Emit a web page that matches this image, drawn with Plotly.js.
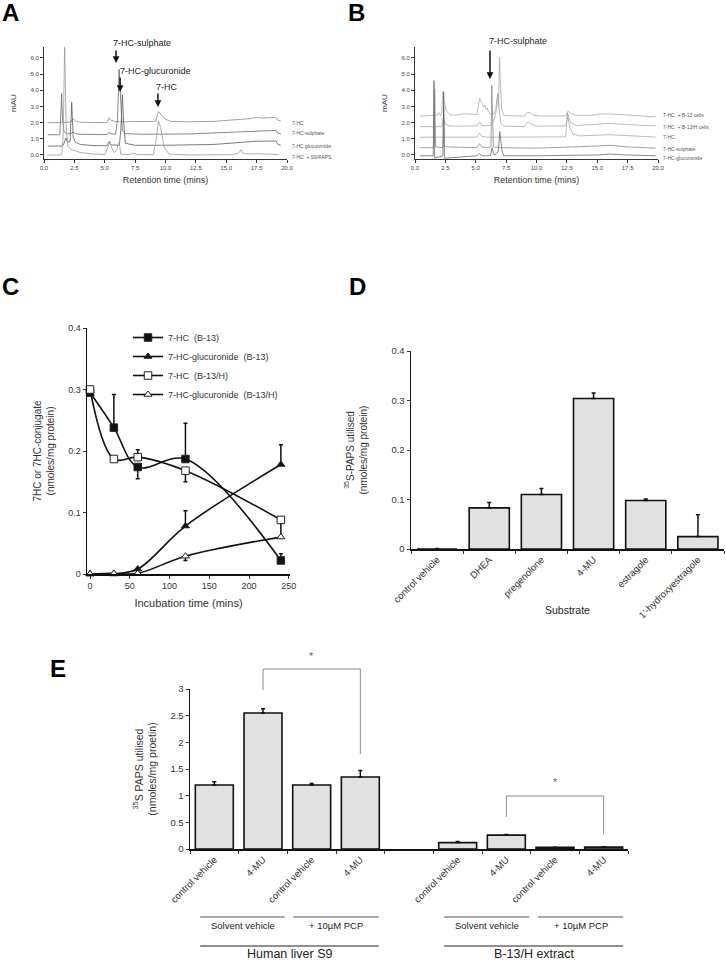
<!DOCTYPE html>
<html><head><meta charset="utf-8">
<script src="https://cdn.plot.ly/plotly-3.0.1.min.js"></script>
<style>html,body{margin:0;padding:0;background:#fff}#chart{width:726px;height:962px}</style>
</head><body><div id="chart"></div>
<script>
// ================= DATA =================
// Panel A: HPLC chromatograms (retention time, mins / absorbance, mAU, stacked)
const A_hc_t   = [0.3,1.4,1.5,1.6,2.2,2.4,2.6,3.0,5.2,5.35,5.5,5.8,6.2,9.2,9.35,9.45,9.6,9.9,10.4,12,14,15.5,17,17.5,18,19.1,19.25,19.5];
const A_hc_y   = [2.0,2.0,2.06,2.0,2.05,2.22,2.1,2.02,2.0,2.3,2.15,2.08,2.05,2.08,2.55,2.68,2.55,2.25,2.08,2.05,2.08,2.15,2.25,2.33,2.28,2.32,2.15,2.1];
const A_sulf_t = [0.3,1.3,1.38,1.45,1.52,1.65,1.9,2.2,2.4,2.6,3.0,5.2,5.35,5.5,5.9,6.05,6.18,6.3,6.45,6.7,8,12,15,17.5,19.1,19.25,19.5];
const A_sulf_y = [1.25,1.25,2.5,3.8,2.2,1.45,1.3,1.32,1.42,1.32,1.28,1.26,1.4,1.3,1.3,2.2,5.3,3.2,1.5,1.32,1.28,1.3,1.4,1.5,1.52,1.35,1.3];
const A_gluc_t = [0.3,1.4,1.6,1.8,1.95,2.15,2.28,2.4,2.6,3.0,4.0,5.2,5.35,5.55,6.2,6.33,6.45,6.55,6.7,7.5,10,14,17.5,19.1,19.25,19.5];
const A_gluc_y = [0.55,0.55,0.62,1.05,0.78,0.85,3.25,1.1,0.78,0.65,0.58,0.57,0.82,0.62,0.6,1.6,3.72,2.1,0.72,0.6,0.6,0.65,0.85,0.86,0.65,0.6];
const A_s9_t   = [0.3,1.45,1.58,1.7,1.82,1.95,2.2,2.6,3.0,4.0,5.0,5.25,5.4,5.6,5.8,6.0,6.1,6.2,6.32,7.0,7.4,7.7,9.0,9.25,9.42,9.6,9.9,10.3,12,15.5,16.0,16.2,16.4,17.0,17.5,19.1,19.3];
const A_s9_y   = [0,0,1.2,6.8,1.8,0.55,0.35,0.25,0.15,0.06,0.03,0.45,0.85,0.4,0.15,0.3,0.7,0.75,0.05,0.02,0.1,0.02,0.02,1.0,2.1,1.7,0.45,0.05,0.0,0.02,0.1,0.32,0.1,0.05,0.08,0.03,0.0];
const A_labels = ['7-HC','7-HC-sulphate','7-HC glucuronide','7-HC  + S9/PAPS'];

// Panel B: HPLC chromatograms
const B_b13_t  = [0.4,1.8,1.95,2.1,2.2,2.3,2.42,2.6,2.9,3.3,4.0,4.6,5.1,5.22,5.32,5.45,5.55,5.65,5.75,5.85,5.95,6.05,6.2,6.5,6.65,6.8,6.88,6.95,7.02,7.12,7.3,9.0,9.25,9.5,9.8,10.5,12.4,12.6,12.85,13.3,14.5,15.5,17,18.5,19.8];
const B_b13_y  = [2.4,2.45,2.62,2.42,2.6,3.95,3.2,2.7,2.5,2.45,2.55,2.5,2.5,3.1,3.5,3.3,3.2,2.95,3.1,2.8,2.9,2.65,2.55,2.55,2.85,3.8,3.0,6.05,5.0,2.9,2.45,2.4,2.65,2.6,2.45,2.4,2.42,2.72,2.55,2.45,2.45,2.55,2.5,2.42,2.35];
const B_b13h_t = [0.4,2.2,2.35,2.5,2.8,3.5,5.1,5.3,5.5,5.9,6.3,6.55,6.7,6.82,6.92,7.05,7.3,9.0,9.3,9.6,10.0,12.4,12.6,12.8,13.3,15,16,17.5,19.8];
const B_b13h_y = [1.75,1.75,2.3,1.9,1.8,1.78,1.8,2.05,1.85,1.8,1.85,2.3,2.8,3.8,2.9,2.0,1.78,1.75,2.05,1.9,1.78,1.8,2.5,2.0,1.82,1.9,1.95,1.88,1.8];
const B_hc_t   = [0.4,5.1,5.3,5.5,5.9,7.0,10,12.4,12.55,12.7,13.0,13.5,15,16,17.5,19.8];
const B_hc_y   = [1.1,1.1,1.35,1.15,1.1,1.1,1.1,1.12,2.6,1.8,1.3,1.18,1.22,1.25,1.2,1.1];
const B_sulf_t = [0.4,1.55,1.62,1.7,2.3,2.36,2.42,5.1,5.3,5.5,5.9,6.25,6.32,6.38,6.45,7,10,15,16,17.5,19.8];
const B_sulf_y = [0.45,0.45,4.1,0.5,0.45,3.0,0.5,0.45,0.7,0.5,0.45,0.5,4.3,1.0,0.5,0.45,0.42,0.55,0.6,0.5,0.42];
const B_gluc_t = [0.4,1.5,1.56,1.62,2.3,2.36,2.42,5.1,5.3,5.5,6.2,6.35,6.5,6.85,6.98,7.15,7.3,10,15,16,17.5,19.8];
const B_gluc_y = [-0.05,-0.05,4.6,-0.2,-0.05,3.9,-0.2,-0.05,0.1,-0.05,-0.05,0.45,0.0,0.2,1.45,0.3,-0.05,-0.05,0.0,0.05,0.0,-0.05];
const B_labels = ['7-HC  + B-13 cells','7-HC  + B-13/H cells','7-HC','7-HC-sulphate','7-HC-glucuronide'];

// Panel C: time course
const C_time = [0,30,60,120,240];
const C_names = ['7-HC\u00a0\u00a0(B-13)','7-HC-glucuronide\u00a0\u00a0(B-13)','7-HC\u00a0\u00a0(B-13/H)','7-HC-glucuronide\u00a0\u00a0(B-13/H)'];
const C_hc_b13      = [0.295,0.238,0.174,0.187,0.022];
const C_hc_b13_up   = [0,0.054,0,0.058,0.011];
const C_hc_b13_dn   = [0,0,0.019,0,0];
const C_gl_b13      = [0,0,0.008,0.078,0.178];
const C_gl_b13_up   = [0,0,0,0.025,0.032];
const C_gl_b13_dn   = [0,0,0,0,0];
const C_hc_b13h     = [0.3,0.187,0.19,0.168,0.088];
const C_hc_b13h_up  = [0,0,0.012,0,0];
const C_hc_b13h_dn  = [0,0,0,0.018,0.028];
const C_gl_b13h     = [0,0.001,0.001,0.029,0.06];
const C_gl_b13h_up  = [0,0,0,0,0];
const C_gl_b13h_dn  = [0,0,0,0.007,0];

// Panel D: substrates
const D_cats = ['control vehicle','DHEA','pregenolone','4-MU','estragole','1\u2019-hydroxyestragole'];
const D_vals = [0,0.083,0.11,0.304,0.098,0.025];
const D_err  = [0.001,0.011,0.012,0.011,0.003,0.044];

// Panel E: PCP inhibition
const E_ids    = ['s9_sv_cv','s9_sv_mu','s9_pcp_cv','s9_pcp_mu','gap','b13_sv_cv','b13_sv_mu','b13_pcp_cv','b13_pcp_mu'];
const E_labels = ['control vehicle','4-MU','control vehicle','4-MU','','control vehicle','4-MU','control vehicle','4-MU'];
const E_vals   = [1.2,2.55,1.2,1.35,null,0.12,0.26,0.03,0.035];
const E_err    = [0.06,0.08,0.03,0.12,null,0.02,0.01,0.005,0.005];
const E_sub    = ['Solvent vehicle','+ 10\u00b5M PCP','Solvent vehicle','+ 10\u00b5M PCP'];
const E_groups = ['Human liver S9','B-13/H extract'];

// ================= LAYOUT =================
const W = 726, H = 962;
const PX = v => v / W, PY = v => 1 - v / H;
const FONT = 'Liberation Sans, Arial, sans-serif';
const INK = '#111';

const traces = [];
function chrom(t, y, xa, ya, color, w) {
  traces.push({x: t, y: y, xaxis: xa, yaxis: ya, type: 'scatter', mode: 'lines',
    line: {color: color, width: w || 0.8}, showlegend: false, hoverinfo: 'skip'});
}
chrom(A_hc_t, A_hc_y, 'x', 'y', '#8a8a8a');
chrom(A_sulf_t, A_sulf_y, 'x', 'y', '#6a6a6a');
chrom(A_gluc_t, A_gluc_y, 'x', 'y', '#5a5a5a');
chrom(A_s9_t, A_s9_y, 'x', 'y', '#9a9a9a');
chrom(B_b13_t, B_b13_y, 'x2', 'y2', '#a8a8a8');
chrom(B_b13h_t, B_b13h_y, 'x2', 'y2', '#a8a8a8');
chrom(B_hc_t, B_hc_y, 'x2', 'y2', '#a8a8a8');
chrom(B_sulf_t, B_sulf_y, 'x2', 'y2', '#8a8a8a');
chrom(B_gluc_t, B_gluc_y, 'x2', 'y2', '#6a6a6a');

function cline(y, up, dn, name, sym, fill, grp) {
  traces.push({x: C_time, y: y, xaxis: 'x3', yaxis: 'y3', type: 'scatter', mode: 'lines+markers',
    name: name, legendgroup: grp, cliponaxis: false,
    line: {color: INK, width: 1.6, shape: 'spline', smoothing: 1},
    marker: {symbol: sym, size: sym.indexOf('triangle') === 0 ? 7 : 7.5, color: fill, line: {color: '#222', width: 1}},
    error_y: {type: 'data', symmetric: false, array: up, arrayminus: dn, color: INK, thickness: 1.5, width: 2}});
}
cline(C_hc_b13, C_hc_b13_up, C_hc_b13_dn, C_names[0], 'square', INK, 'g1');
cline(C_gl_b13, C_gl_b13_up, C_gl_b13_dn, C_names[1], 'triangle-up', INK, 'g2');
cline(C_hc_b13h, C_hc_b13h_up, C_hc_b13h_dn, C_names[2], 'square', '#fff', 'g3');
cline(C_gl_b13h, C_gl_b13h_up, C_gl_b13h_dn, C_names[3], 'triangle-up', '#fff', 'g4');

const barStyle = {color: '#e1e1e1', line: {color: INK, width: 1.6}};
traces.push({x: D_cats, y: D_vals, xaxis: 'x4', yaxis: 'y4', type: 'bar', width: 0.77,
  marker: barStyle, showlegend: false, hoverinfo: 'skip',
  error_y: {type: 'data', symmetric: false, array: D_err, arrayminus: D_err.map(() => 0), color: INK, thickness: 1.5, width: 2}});
traces.push({x: E_ids, y: E_vals, xaxis: 'x5', yaxis: 'y5', type: 'bar', width: 0.78,
  marker: barStyle, showlegend: false, hoverinfo: 'skip',
  error_y: {type: 'data', symmetric: false, array: E_err, arrayminus: E_err.map(() => 0), color: INK, thickness: 1.5, width: 2}});

const baseAx = {showline: true, linecolor: '#333', linewidth: 1, ticks: 'outside', ticklen: 3, tickwidth: 1,
  tickcolor: '#333', showgrid: false, zeroline: false, fixedrange: true};
function ax(o) { return Object.assign({}, baseAx, o); }

const chromX = (dom, anchor) => ax({domain: dom, anchor: anchor, range: [0, 20], tick0: 0, dtick: 2.5, tickformat: '.1f',
  tickfont: {family: FONT, size: 6, color: '#444'},
  title: {text: 'Retention time (mins)', font: {family: FONT, size: 9, color: '#333'}, standoff: 6}});
const chromY = (anchor) => ax({domain: [PY(159), PY(47)], anchor: anchor, range: [-0.25, 6.68], tick0: 0, dtick: 1, tickformat: '.1f',
  tickfont: {family: FONT, size: 6, color: '#444'},
  title: {text: 'mAU', font: {family: FONT, size: 8, color: '#333'}, standoff: 12}});

const layout = {
  width: W, height: H, margin: {l: 0, r: 0, t: 0, b: 0},
  paper_bgcolor: '#fff', plot_bgcolor: 'rgba(0,0,0,0)',
  font: {family: FONT, color: '#333'},
  showlegend: true,
  legend: {x: PX(128), y: PY(323), xanchor: 'left', yanchor: 'top', bgcolor: 'rgba(0,0,0,0)',
    font: {family: FONT, size: 9, color: '#333'}, itemwidth: 30, tracegroupgap: 2, traceorder: 'normal'},
  xaxis: chromX([PX(44), PX(287)], 'y'),
  yaxis: chromY('x'),
  xaxis2: chromX([PX(415), PX(658)], 'y2'),
  yaxis2: chromY('x2'),
  xaxis3: ax({domain: [PX(87), PX(290)], anchor: 'y3', range: [-3.8, 251.5], tick0: 0, dtick: 50,
    linecolor: INK, linewidth: 1.5, tickfont: {family: FONT, size: 9, color: '#333'},
    title: {text: 'Incubation time (mins)', font: {family: FONT, size: 11, color: '#333'}, standoff: 9}}),
  yaxis3: ax({domain: [PY(574), PY(328)], anchor: 'x3', range: [0, 0.4], dtick: 0.1,
    linecolor: INK, linewidth: 1.5, tickfont: {family: FONT, size: 9, color: '#333'},
    title: {text: '7HC or 7HC-conjugate<br>(nmoles/mg protein)', font: {family: FONT, size: 10, color: '#333'}, standoff: 11}}),
  xaxis4: ax({domain: [PX(411), PX(724)], anchor: 'y4', type: 'category', tickson: 'boundaries', tickangle: -45,
    linecolor: INK, linewidth: 1.5, tickfont: {family: FONT, size: 9.5, color: '#333'}}),
  yaxis4: ax({domain: [PY(549), PY(351)], anchor: 'x4', range: [0, 0.4], dtick: 0.1,
    linecolor: INK, linewidth: 1.5, tickfont: {family: FONT, size: 9.5, color: '#333'},
    title: {text: '<sup>35</sup>S-PAPS utilised<br>(nmoles/mg protein)', font: {family: FONT, size: 10, color: '#333'}, standoff: 22}}),
  xaxis5: ax({domain: [PX(190), PX(628)], anchor: 'y5', type: 'category', categoryorder: 'array', categoryarray: E_ids,
    tickmode: 'array', tickvals: E_ids, ticktext: E_labels, tickson: 'boundaries', tickangle: -45,
    linecolor: INK, linewidth: 1.5, tickfont: {family: FONT, size: 9.5, color: '#333'}}),
  yaxis5: ax({domain: [PY(849), PY(689)], anchor: 'x5', range: [0, 3], dtick: 0.5,
    linecolor: INK, linewidth: 1.5, tickfont: {family: FONT, size: 9.5, color: '#333'},
    title: {text: '<sup>35</sup>S PAPS utilised<br>(nmoles/mg proetin)', font: {family: FONT, size: 10.5, color: '#333'}, standoff: 11}}),
  annotations: [], shapes: []
};

const ann = layout.annotations, shp = layout.shapes;
// panel letters
[['A', 10, 13], ['B', 356, 13], ['C', 10, 286], ['D', 357, 286], ['E', 58, 668]].forEach(([t, x, y]) =>
  ann.push({xref: 'paper', yref: 'paper', x: PX(x), y: PY(y), text: '<b>' + t + '</b>', showarrow: false,
    xanchor: 'center', yanchor: 'middle', font: {family: FONT, size: 24, color: '#000'}}));

// peak labels + arrows
function peak(xa, ya, text, tx, ty, hx, hy, len) {
  ann.push({xref: 'paper', yref: 'paper', x: PX(tx), y: PY(ty), text: text, showarrow: false,
    xanchor: 'center', yanchor: 'middle', font: {family: FONT, size: 9, color: '#222'}});
  ann.push({xref: xa, yref: ya, x: hx, y: hy, text: '', showarrow: true, ax: 0, ay: -len,
    arrowhead: 2, arrowsize: 0.9, arrowwidth: 1.5, arrowcolor: INK, standoff: 0});
}
peak('x', 'y', '7-HC-sulphate', 142, 43, 5.93, 5.69, 14);
peak('x', 'y', '7-HC-glucuronide', 155, 71, 6.26, 3.9, 16);
peak('x', 'y', '7-HC', 167, 87, 9.38, 2.97, 15);
peak('x2', 'y2', '7-HC-sulphate', 518, 41, 6.17, 4.7, 30);

// trace labels (right of each chromatogram)
const aLabY = [1.98, 1.36, 0.56, -0.12];
A_labels.forEach((t, i) => ann.push({xref: 'paper', yref: 'y', x: PX(290), y: aLabY[i], text: t, showarrow: false,
  xanchor: 'left', yanchor: 'middle', font: {family: FONT, size: 5, color: '#555'}}));
const bLabY = [2.47, 1.73, 1.11, 0.37, -0.19];
B_labels.forEach((t, i) => ann.push({xref: 'paper', yref: 'y2', x: PX(661), y: bLabY[i], text: t, showarrow: false,
  xanchor: 'left', yanchor: 'middle', font: {family: FONT, size: 5, color: '#555'}}));

// D x title
ann.push({xref: 'paper', yref: 'paper', x: PX(567), y: PY(610), text: 'Substrate', showarrow: false,
  xanchor: 'center', yanchor: 'middle', font: {family: FONT, size: 10.5, color: '#222'}});

// E significance brackets
function bracket(a, b, top, la, lb, starY) {
  const e = layout.yaxis5.range[1];
  const L = (x0, y0, x1, y1) => shp.push({type: 'line', xref: 'x5', yref: 'y5 domain', x0: x0, x1: x1, y0: y0 / e, y1: y1 / e,
    line: {color: '#8a8a8a', width: 1}});
  L(a, la, a, top); L(a, top, b, top); L(b, top, b, lb);
  ann.push({xref: 'x5', yref: 'y5 domain', x: (a + b) / 2, y: starY / e, text: '*', showarrow: false,
    xanchor: 'center', yanchor: 'middle', font: {family: FONT, size: 11, color: '#666'}});
}
bracket(1, 3, 3.375, 2.98, 1.78, 3.62);
bracket(6, 8, 0.994, 0.6, 0.28, 1.26);

// E group lines and labels
function grp(x0, x1, yLine, yText, text, size, col) {
  shp.push({type: 'line', xref: 'x5', yref: 'paper', x0: x0, x1: x1, y0: PY(yLine), y1: PY(yLine), line: {color: col, width: 1.2}});
  ann.push({xref: 'x5', yref: 'paper', x: (x0 + x1) / 2, y: PY(yText), text: text, showarrow: false,
    xanchor: 'center', yanchor: 'middle', font: {family: FONT, size: size, color: '#222'}});
}
grp(-0.29, 1.45, 917, 925, E_sub[0], 9.5, '#555');
grp(1.62, 3.38, 917, 925, E_sub[1], 9.5, '#555');
grp(4.72, 6.47, 917, 925, E_sub[2], 9.5, '#555');
grp(6.65, 8.4, 917, 925, E_sub[3], 9.5, '#555');
grp(-0.29, 3.38, 946, 954, E_groups[0], 12.5, '#222');
grp(4.72, 8.4, 946, 954, E_groups[1], 12.5, '#222');

Plotly.newPlot('chart', traces, layout, {displayModeBar: false, staticPlot: true});
</script>
</body></html>
